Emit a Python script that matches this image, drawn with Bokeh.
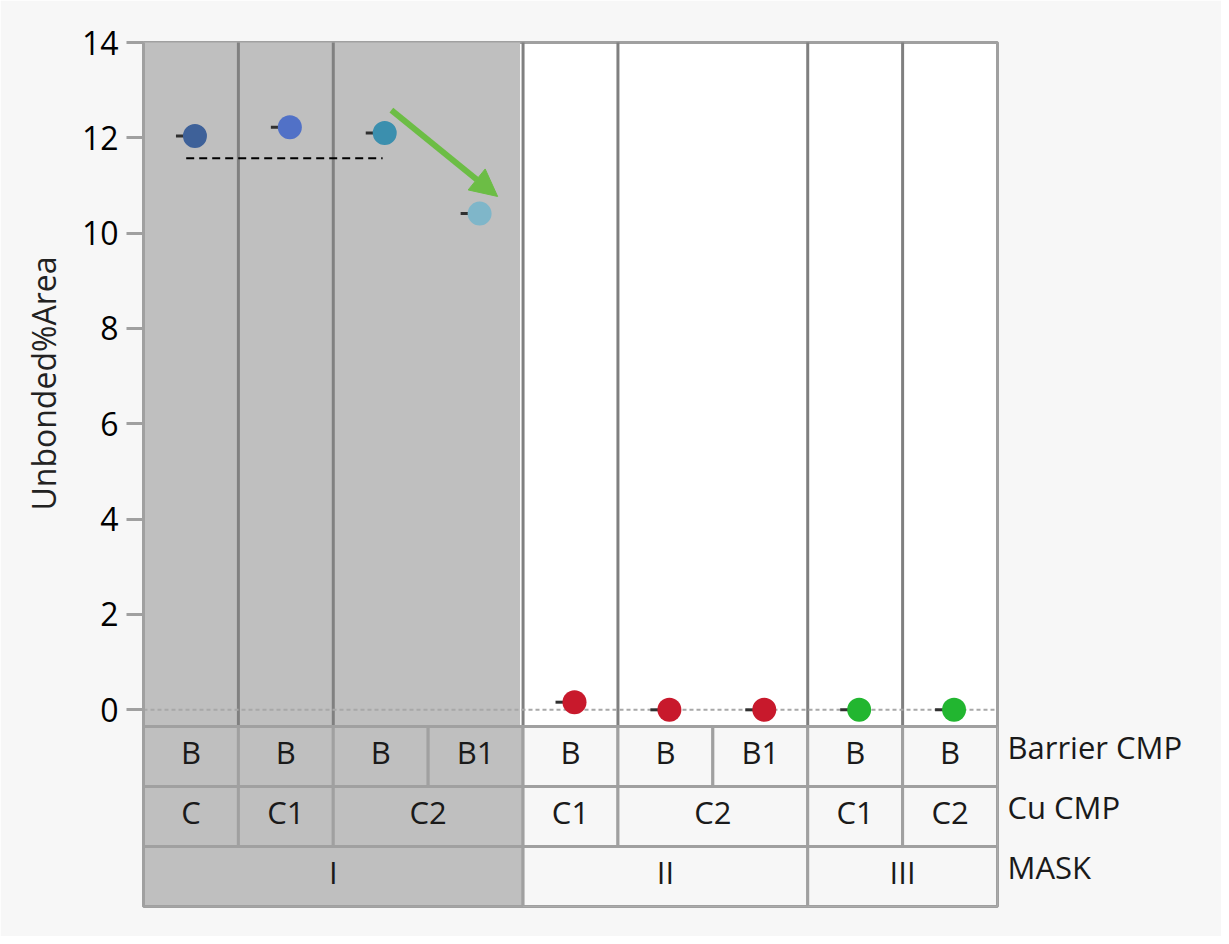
from itertools import groupby
import numpy as np
from bokeh.plotting import figure
from bokeh.models import (Range1d, FixedTicker, Arrow, NormalHead, Title, LinearAxis)
from bokeh.core.properties import value
from bokeh.embed import file_html
from bokeh.resources import INLINE

# ---------------- data ----------------
barrier_cmp = ["B", "B", "B", "B1", "B", "B", "B1", "B", "B"]
cu_cmp = ["C", "C1", "C2", "C2", "C1", "C2", "C2", "C1", "C2"]
mask = ["I", "I", "I", "I", "II", "II", "II", "III", "III"]
unbonded_pct_area = [12.04, 12.22, 12.10, 10.41, 0.16, 0.0, 0.0, 0.0, 0.0]
mask_I_mean = 11.57
y_ticks = [0, 2, 4, 6, 8, 10, 12, 14]
y_top = 14
y_bottom = -0.35
y_label = "Unbonded%Area"
row_labels = ["MASK", "Cu CMP", "Barrier CMP"]   # bottom to top
highlight_mask = "I"

# ---------------- styles ----------------
point_colors = ["#3e6199", "#5171c7", "#3b8fae", "#7fb6c9",
                "#c8192c", "#c8192c", "#c8192c", "#22b630", "#22b630"]
FONT = "Open Sans"
GREY_SHADE = "#bfbfbf"
CELL_LIGHT = "#f7f7f7"
LINE_GREY = "#a0a0a0"
SEP_GREY = "#808080"
ARROW_GREEN = "#6cbd45"

FRAME_W = 854
PLOT_H = 684
ROW_PX = 60
N_ROWS = 3
TABLE_H = ROW_PX * N_ROWS
PX_PER_TU = 2            # pixels per table unit
ROW_TU = ROW_PX // PX_PER_TU

n = len(unbonded_pct_area)
col_px = FRAME_W / n
xc = np.arange(n) + 0.5
px = xc + 4 / col_px


def spans(keys):
    out, i = [], 0
    for k, g in groupby(keys):
        L = len(list(g))
        out.append((i, i + L, k))
        i += L
    return out


mask_spans = spans(mask)
cu_spans = [(a, b, k[1]) for a, b, k in spans(list(zip(mask, cu_cmp)))]
barrier_spans = [(i, i + 1, barrier_cmp[i]) for i in range(n)]

unit_px = PLOT_H / (y_top - y_bottom)
y_start = y_top - (PLOT_H + TABLE_H) / unit_px

p = figure(width=143 + FRAME_W + 224, height=42 + PLOT_H + TABLE_H + 30,
           x_range=Range1d(0, n), y_range=Range1d(y_start, y_top),
           output_backend="svg", toolbar_location=None, x_axis_location=None,
           y_axis_location="left", min_border_left=143, min_border_right=224,
           min_border_top=42, min_border_bottom=30)
p.extra_y_ranges = {"table": Range1d(0, (PLOT_H + TABLE_H) / PX_PER_TU)}
p.background_fill_color = "white"
p.border_fill_color = "#f7f7f7"
p.outline_line_color = LINE_GREY
p.outline_line_width = 3
p.grid.visible = False

# shaded MASK I region in plot area
for a, b, k in mask_spans:
    if k == highlight_mask:
        p.quad(left=a, right=b - 3 / col_px, bottom=y_bottom, top=y_top + 1,
               fill_color=GREY_SHADE, line_color=None)

bounds = sorted({b for a, b, k in cu_spans if 0 < b < n})
p.segment(x0=bounds, y0=[y_bottom] * len(bounds), x1=bounds, y1=[y_top + 1] * len(bounds),
          line_color=SEP_GREY, line_width=3)

p.segment(x0=[0], y0=[0], x1=[n], y1=[0], line_color="#a8a8a8",
          line_width=2, line_dash="4 3")

p.segment(x0=[xc[0] - 0.05], y0=[mask_I_mean], x1=[xc[2] + 0.02], y1=[mask_I_mean],
          line_color="black", line_width=2, line_dash="8 5")

p.segment(x0=px - 0.2, y0=unbonded_pct_area, x1=px, y1=unbonded_pct_area,
          line_color="#303030", line_width=3)
p.scatter(px, unbonded_pct_area, size=24, fill_color=point_colors, line_color=None)

p.add_layout(Arrow(end=NormalHead(size=27, fill_color=ARROW_GREEN, line_color=ARROW_GREEN),
                   x_start=px[2] + 0.07, y_start=unbonded_pct_area[2] + 0.48,
                   x_end=px[3] + 0.19, y_end=unbonded_pct_area[3] + 0.36,
                   line_color=ARROW_GREEN, line_width=6))

# ---------------- table ----------------
L, R, B, T, F, X, Y, S = [], [], [], [], [], [], [], []
for row, sp in enumerate([mask_spans, cu_spans, barrier_spans]):
    for a, b, k in sp:
        L.append(a); R.append(b)
        B.append(row * ROW_TU); T.append((row + 1) * ROW_TU)
        F.append(GREY_SHADE if mask[a] == highlight_mask else CELL_LIGHT)
        X.append((a + b) / 2); Y.append(row * ROW_TU + ROW_TU / 2 + 2.5); S.append(k)

p.quad(left=L, right=R, bottom=B, top=T, fill_color=F, line_color=LINE_GREY,
       line_width=3, y_range_name="table")
p.text(x=X, y=Y, text=S, text_font=value(FONT), text_font_size="31px",
       text_align="center", text_baseline="middle", text_color="#1a1a1a",
       y_range_name="table")

# ---------------- axes ----------------
ax = p.yaxis[0]
ax.ticker = FixedTicker(ticks=y_ticks)
ax.axis_line_color = LINE_GREY
ax.axis_line_width = 3
ax.major_tick_line_color = LINE_GREY
ax.major_tick_line_width = 3
ax.major_tick_out = 17
ax.major_tick_in = 0
ax.minor_tick_line_color = None
ax.major_label_standoff = 8
ax.major_label_text_font = FONT
ax.major_label_text_font_size = "32px"
ax.major_label_text_color = "black"

# y-axis title, centred on the plot part (not on the table part)
p.add_layout(Title(text=y_label, align="right", offset=214, vertical_align="top",
                   text_font=FONT, text_font_size="32px", text_font_style="normal",
                   text_color="#222222", standoff=24), "left")

label_ticks = [r * ROW_TU + ROW_TU // 2 + 10 // PX_PER_TU for r in range(N_ROWS)]
rax = LinearAxis(y_range_name="table", ticker=FixedTicker(ticks=label_ticks))
rax.major_label_overrides = {tk: lab for tk, lab in zip(label_ticks, row_labels)}
rax.axis_line_color = None
rax.major_tick_line_color = None
rax.minor_tick_line_color = None
rax.major_tick_out = 0
rax.major_label_standoff = 10
rax.major_label_text_font = FONT
rax.major_label_text_font_size = "31px"
rax.major_label_text_color = "#1a1a1a"
p.add_layout(rax, "right")

open("out.html", "w").write(file_html(p, INLINE, "Variability chart"))
